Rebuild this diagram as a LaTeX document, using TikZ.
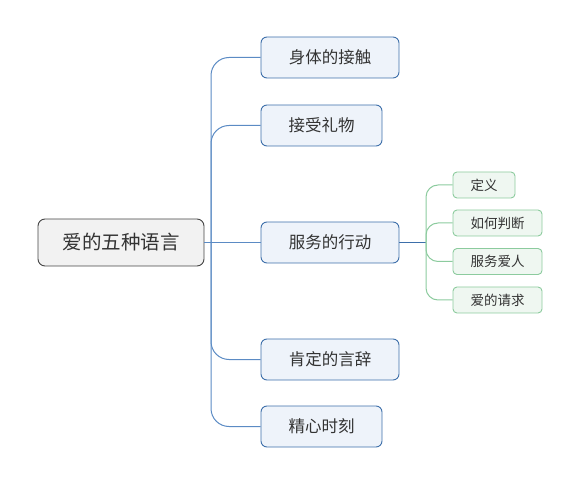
\documentclass[tikz,border=0pt]{standalone}
\usepackage{fontspec}
\newfontfamily\cjk{Noto Sans CJK SC}
\definecolor{txt}{HTML}{333333}
\definecolor{rootfill}{HTML}{F2F2F2}
\definecolor{rootline}{HTML}{444444}
\definecolor{bfill}{HTML}{EEF3FA}
\definecolor{bline}{HTML}{3D6FAA}
\definecolor{trunk}{HTML}{5B8BC4}
\definecolor{gfill}{HTML}{EFF7F1}
\definecolor{gline}{HTML}{8CCB9E}
\begin{document}
\begin{tikzpicture}[x=1pt,y=-1pt,
  rootbox/.style={draw=rootline,fill=rootfill,rounded corners=7pt,line width=0.9pt,minimum width=166pt,minimum height=47pt,font=\cjk\fontsize{19.5}{22}\selectfont,text=txt,inner sep=0pt},
  branchbox/.style={draw=bline,fill=bfill,rounded corners=6pt,line width=0.9pt,minimum height=41pt,font=\cjk\fontsize{16.5}{18}\selectfont,text=txt,inner sep=0pt},
  subbox/.style={draw=gline,fill=gfill,rounded corners=4pt,line width=0.9pt,minimum height=26pt,font=\cjk\fontsize{13.5}{15}\selectfont,text=txt,inner sep=0pt},
  trunkline/.style={draw=trunk,line width=1pt,rounded corners=18pt},
  subline/.style={draw=gline,line width=1pt,rounded corners=12pt}]
\useasboundingbox (0,0) rectangle (581,486);
\node[rootbox] (root) at (121,242.5) {爱的五种语言};
\node[branchbox,minimum width=138pt] (b1) at (330,57.5) {身体的接触};
\node[branchbox,minimum width=121pt] (b2) at (321.5,125.5) {接受礼物};
\node[branchbox,minimum width=138pt] (b3) at (330,242.5) {服务的行动};
\node[branchbox,minimum width=138pt] (b4) at (330,359.5) {肯定的言辞};
\node[branchbox,minimum width=121pt] (b5) at (321.5,426.5) {精心时刻};
\node[subbox,minimum width=62pt] (s1) at (484,185) {定义};
\node[subbox,minimum width=89pt] (s2) at (497.5,223) {如何判断};
\node[subbox,minimum width=89pt] (s3) at (497.5,261.5) {服务爱人};
\node[subbox,minimum width=89pt] (s4) at (497.5,300) {爱的请求};
\coordinate (j) at (211,242.5);
\coordinate (k) at (426,242.5);
\draw[trunkline] (root.east) -- (b3.west);
\draw[trunkline] (j) |- (b1.west);
\draw[trunkline] (j) |- (b2.west);
\draw[trunkline] (j) |- (b4.west);
\draw[trunkline] (j) |- (b5.west);
\draw[draw=bline,line width=1pt] (b3.east) -- (k);
\draw[subline] (k) |- (s1.west);
\draw[subline] (k) |- (s2.west);
\draw[subline] (k) |- (s3.west);
\draw[subline] (k) |- (s4.west);
\end{tikzpicture}
\end{document}
